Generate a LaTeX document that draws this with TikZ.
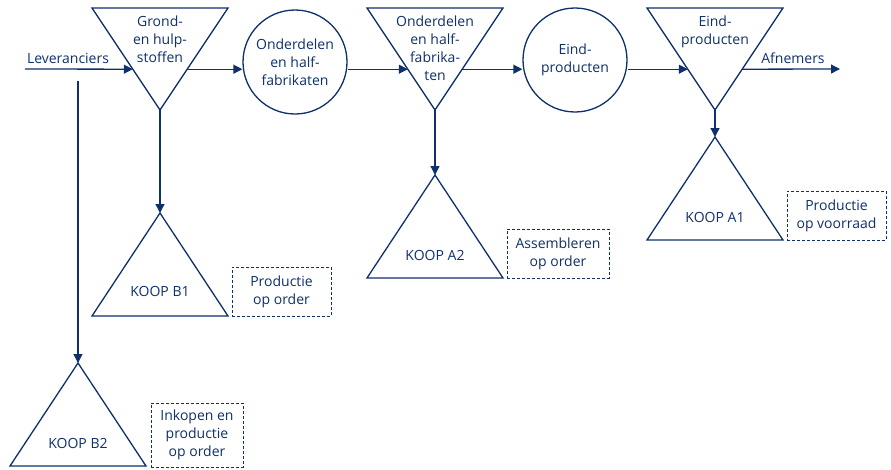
\documentclass[tikz,border=0pt]{standalone}
\usepackage{fontspec}
\setmainfont{Open Sans}
\usetikzlibrary{arrows.meta,calc}
\definecolor{koopblue}{RGB}{14,48,108}

\begin{document}
\begin{tikzpicture}
    [x=1pt, y=-1pt,
     every node/.style={text=koopblue, font=\fontsize{14}{18}\selectfont, align=center, inner sep=0pt},
     stock/.style={draw=koopblue, line width=1.3pt},
     buffer/.style={circle, draw=koopblue, line width=1.3pt, minimum size=104pt},
     note/.style={draw=koopblue, line width=0.9pt, dash pattern=on 3pt off 2pt, minimum width=99pt, minimum height=49pt},
     flow/.style={draw=koopblue, line width=1.3pt, -{Triangle[length=9pt,width=9pt]}}]
    \useasboundingbox (0,0) rectangle (891,469);
    % \draw[step=50,gray,very thin] (0,0) grid (891,469);
    \coordinate (T1l) at (92,8);   \coordinate (T1r) at (228,8);  \coordinate (T1a) at (160,110);
    \coordinate (T2l) at (367,8);  \coordinate (T2r) at (503,8);  \coordinate (T2a) at (435,110);
    \coordinate (T3l) at (647,8);  \coordinate (T3r) at (783,8);  \coordinate (T3a) at (715,110);
    \coordinate (T1in) at ($(T1l)!0.6!(T1a)$);  \coordinate (T1out) at ($(T1r)!0.6!(T1a)$);
    \coordinate (T2in) at ($(T2l)!0.6!(T2a)$);  \coordinate (T2out) at ($(T2r)!0.6!(T2a)$);
    \coordinate (T3in) at ($(T3l)!0.6!(T3a)$);  \coordinate (T3out) at ($(T3r)!0.6!(T3a)$);
    \draw[stock] (T1l) -- (T1r) -- (T1a) -- cycle;
    \draw[stock] (T2l) -- (T2r) -- (T2a) -- cycle;
    \draw[stock] (T3l) -- (T3r) -- (T3a) -- cycle;
    \node[anchor=north] (grond) at (160,16) {Grond-\\en hulp-\\stoffen};
    \node[anchor=north] (halfvp) at (435,16) {Onderdelen\\en half-\\fabrika-\\ten};
    \node[anchor=north] (eindvp) at (715,16) {Eind-\\producten};
    \node[buffer] (onder) at (295,62) {Onderdelen\\en half-\\fabrikaten};
    \node[buffer] (eind) at (575,60) {Eind-\\producten};
    \coordinate (levstart) at (25,69);
    \coordinate (afnend) at (840,69);
    \coordinate (B2top) at (78,81);
    \node (lev) at (68,58) {Leveranciers};
    \node (afn) at (793,58) {Afnemers};
    % klantorderontkoppelpunten
    \coordinate (B1a) at (160,213);
    \coordinate (B2a) at (78,363);
    \coordinate (A2a) at (435,175);
    \coordinate (A1a) at (715,137);
    \draw[stock] (B1a) -- (228,316) -- (92,316) -- cycle;
    \draw[stock] (B2a) -- (146,466) -- (10,466) -- cycle;
    \draw[stock] (A2a) -- (503,278) -- (367,278) -- cycle;
    \draw[stock] (A1a) -- (783,240) -- (647,240) -- cycle;
    \node (koopB1) at (160,291) {KOOP B1};
    \node (koopB2) at (78,443) {KOOP B2};
    \node (koopA2) at (435,255) {KOOP A2};
    \node (koopA1) at (715,217) {KOOP A1};
    \node[note] (noteB1) at (281.5,291.5) {Productie\\op order};
    \node[note, minimum width=92pt, minimum height=64pt] (noteB2) at (197,435) {Inkopen en\\productie\\op order};
    \node[note, minimum width=102pt] (noteA2) at (558,253.5) {Assembleren\\op order};
    \node[note] (noteA1) at (836.5,215.5) {Productie\\op voorraad};
    \draw[flow] (levstart) -- (T1in);
    \draw[flow] (T1out) -- (T1out -| onder.west);
    \draw[flow] (T2in -| onder.east) -- (T2in);
    \draw[flow] (T2out) -- (T2out -| eind.west);
    \draw[flow] (T3in -| eind.east) -- (T3in);
    \draw[flow] (T3out) -- (afnend);
    \draw[flow] (T1a) -- (B1a);
    \draw[flow] (B2top) -- (B2a);
    \draw[flow] (T2a) -- (A2a);
    \draw[flow] (T3a) -- (A1a);
\end{tikzpicture}
\end{document}
